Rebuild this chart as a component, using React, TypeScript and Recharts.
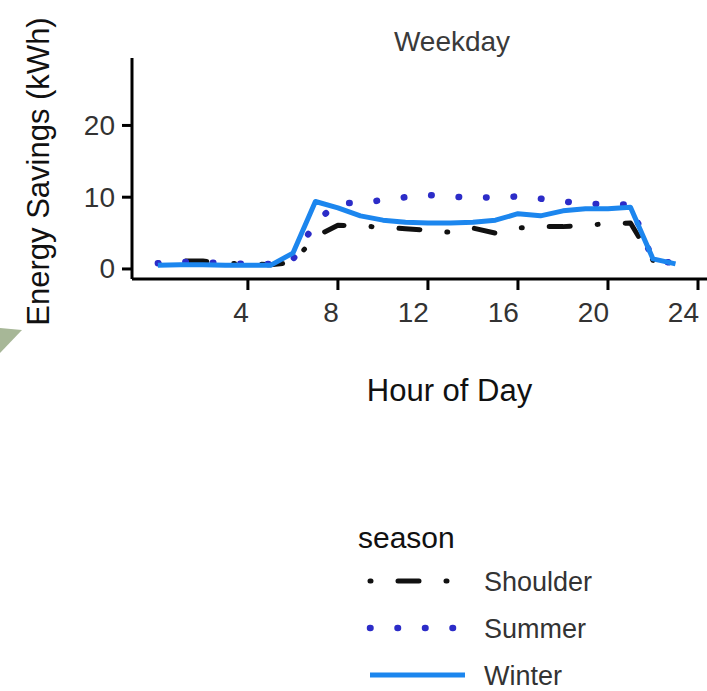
import React from 'react';
import { LineChart, Line, XAxis, YAxis, Legend } from 'recharts';

// hour of day 0..23
const hours = [0, 1, 2, 3, 4, 5, 6, 7, 8, 9, 10, 11, 12, 13, 14, 15, 16, 17, 18, 19, 20, 21, 22, 23];

const shoulder = [0.8, 1.1, 1.1, 0.8, 0.7, 0.6, 0.9, 4.5, 6.1, 6.0, 5.8, 5.6, 5.4, 5.1, 5.7, 5.0, 5.7, 5.9, 5.9, 6.1, 6.3, 6.4, 1.2, 0.7];
const summer = [0.8, 1.0, 0.9, 0.8, 0.7, 0.7, 1.3, 6.5, 9.2, 9.2, 9.6, 10.0, 10.3, 10.1, 9.9, 10.0, 10.1, 9.8, 9.4, 9.1, 9.0, 9.0, 1.2, 0.8];
const winter = [0.5, 0.6, 0.6, 0.5, 0.5, 0.5, 2.2, 9.4, 8.5, 7.4, 6.8, 6.5, 6.4, 6.4, 6.5, 6.8, 7.7, 7.4, 8.1, 8.4, 8.4, 8.6, 1.4, 0.7];

const xTicks = [4, 8, 12, 16, 20, 24];
const yTicks = [0, 10, 20];

const data = hours.map((h, i) => ({
  hour: h,
  Shoulder: shoulder[i],
  Summer: summer[i],
  Winter: winter[i],
}));

const series = [
  { key: 'Shoulder', color: '#111111', width: 5, dash: '1 27 21 27' },
  { key: 'Summer', color: '#2c2cc8', width: 6.5, dash: '0.5 27' },
  { key: 'Winter', color: '#1c86ee', width: 5, dash: undefined as string | undefined },
];

const FONT = '"Liberation Sans", Arial, sans-serif';

const XTick = ({ x, y, payload }: any) => (
  <text x={x + 1} y={y} dy="0.71em" textAnchor="end" fontSize={28} fill="#333" fontFamily={FONT}>
    {payload.value}
  </text>
);

const YTick = ({ x, y, payload }: any) => (
  <text x={x} y={y} dominantBaseline="central" textAnchor="end" fontSize={28} fill="#333" fontFamily={FONT}>
    {payload.value}
  </text>
);

const YLabel = ({ viewBox }: any) => {
  const cx = viewBox.x + 38;
  const cy = viewBox.y + viewBox.height / 2 + 3;
  return (
    <text x={cx} y={cy} transform={`rotate(-90 ${cx} ${cy})`} textAnchor="middle" dominantBaseline="central"
      fontSize={31} fill="#111" fontFamily={FONT}>
      Energy Savings (kWh)
    </text>
  );
};

const XLabel = ({ viewBox }: any) => (
  <text x={viewBox.x + viewBox.width / 2 + 30} y={viewBox.y + 111} textAnchor="middle" dominantBaseline="central"
    fontSize={31} fill="#111" fontFamily={FONT}>
    Hour of Day
  </text>
);

const SeasonLegend = () => (
  <svg width={300} height={181} style={{ display: 'block' }}>
    <text x={18} y={27} dominantBaseline="central" fontSize={30} fill="#111" fontFamily={FONT}>season</text>
    {series.map((s, i) => {
      const cy = 71 + i * 47;
      return (
        <g key={s.key}>
          <line x1={30} x2={125} y1={cy} y2={cy} stroke={s.color} strokeWidth={s.width}
            strokeDasharray={s.dash} strokeLinecap={s.dash ? 'round' : 'butt'} />
          <text x={144} y={cy + 1} dominantBaseline="central" fontSize={27} fill="#333" fontFamily={FONT}>{s.key}</text>
        </g>
      );
    })}
  </svg>
);

export default function App() {
  return (
    <div style={{ position: 'absolute', left: 0, top: 0, width: 707, height: 691, background: '#fff', fontFamily: FONT, overflow: 'hidden' }}>
      <LineChart width={707} height={691} data={data} margin={{ top: 58, right: 0, left: 0, bottom: 282 }}>
        <XAxis
          dataKey="hour"
          type="number"
          domain={[-1.15, 24.4]}
          ticks={xTicks}
          allowDataOverflow
          height={130}
          axisLine={{ stroke: '#000', strokeWidth: 3 }}
          tickLine={{ stroke: '#000', strokeWidth: 3 }}
          tickSize={11}
          tickMargin={12}
          tick={<XTick />}
          label={<XLabel />}
        />
        <YAxis
          type="number"
          domain={[-1.4, 29.4]}
          ticks={yTicks}
          allowDataOverflow
          width={132}
          axisLine={{ stroke: '#000', strokeWidth: 3 }}
          tickLine={{ stroke: '#000', strokeWidth: 3 }}
          tickSize={10}
          tickMargin={7}
          tick={<YTick />}
          label={<YLabel />}
        />
        <Legend
          layout="horizontal"
          verticalAlign="middle"
          align="center"
          content={<SeasonLegend />}
          wrapperStyle={{ left: 340, top: 510, width: 300, height: 181 }}
        />
        {series.map((s) => (
          <Line
            key={s.key}
            dataKey={s.key}
            type="linear"
            stroke={s.color}
            strokeWidth={s.width}
            strokeDasharray={s.dash}
            strokeLinecap={s.dash ? 'round' : 'butt'}
            strokeLinejoin="round"
            dot={false}
            activeDot={false}
            isAnimationActive={false}
          />
        ))}
      </LineChart>
      <div style={{ position: 'absolute', left: 352, top: 24, width: 200, textAlign: 'center', fontSize: 28, color: '#3a3a3a', lineHeight: '36px' }}>
        Weekday
      </div>
      <svg width={30} height={30} style={{ position: 'absolute', left: 0, top: 326 }}>
        <polygon points="0,2 22,4 0,27" fill="#a7b797" />
      </svg>
    </div>
  );
}
